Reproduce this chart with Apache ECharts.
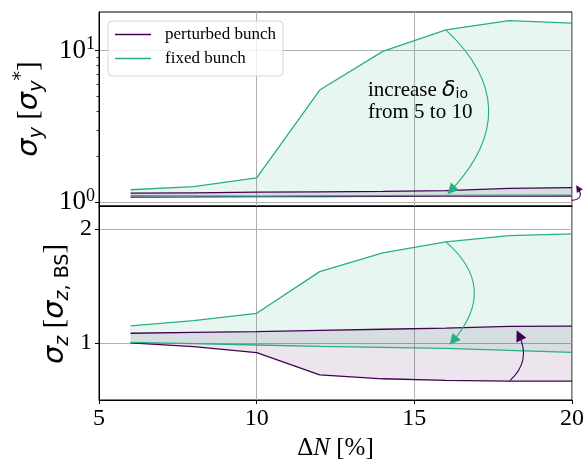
<!DOCTYPE html>
<html>
<head>
<meta charset="utf-8">
<script src="https://cdn.jsdelivr.net/npm/echarts@6/dist/echarts.min.js"></script>
<style>
  html, body { margin: 0; padding: 0; background: #fff; }
  #chart { width: 587px; height: 460px; }
</style>
</head>
<body>
<div id="chart"></div>
<script>
// Bunch intensity perturbation ΔN [%]
const deltaN = [6, 8, 10, 12, 14, 16, 18, 20];

// Vertical beam size σ_y [σ_y*] – band edges for δ_io = 5 (low) and 10 (high)
const sigmaYPerturbedLow  = [1.083, 1.085, 1.09, 1.092, 1.095, 1.097, 1.10, 1.10];
const sigmaYPerturbedHigh = [1.15, 1.155, 1.165, 1.17, 1.18, 1.195, 1.235, 1.25];
const sigmaYFixedLow      = [1.105, 1.103, 1.098, 1.103, 1.107, 1.11, 1.113, 1.115];
const sigmaYFixedHigh     = [1.21, 1.27, 1.45, 5.5, 9.9, 13.7, 15.8, 15.2];

// Bunch length σ_z [σ_z,BS]
const sigmaZPerturbedLow  = [1.0, 0.968, 0.915, 0.72, 0.686, 0.672, 0.665, 0.665];
const sigmaZPerturbedHigh = [1.085, 1.093, 1.10, 1.11, 1.12, 1.13, 1.145, 1.148];
const sigmaZFixedLow      = [1.005, 0.994, 0.982, 0.97, 0.962, 0.953, 0.935, 0.918];
const sigmaZFixedHigh     = [1.15, 1.195, 1.26, 1.625, 1.79, 1.885, 1.94, 1.955];

// Axis ticks
const xTicks = [5, 10, 15, 20];
const sigmaYTicks = [1, 10];
const sigmaYMinorTicks = [2, 3, 4, 5, 6, 7, 8, 9];
const sigmaZTicks = [1, 2];

// Curved arrows: trend when δ_io grows from 5 to 10
const arrowYFixed     = [[16, 13.7], [16.17, 1.2]];
const arrowYPerturbed = [[20.0, 1.03], [20.19, 1.24]];
const arrowZFixed     = [[16, 1.886], [16.23, 1.02]];
const arrowZPerturbed = [[18.03, 0.67], [18.32, 1.068]];

const PURPLE = '#440154';
const GREEN = '#29af7f';
const PURPLE_FILL = 'rgba(68, 1, 84, 0.10)';
const GREEN_FILL = 'rgba(41, 175, 127, 0.11)';
const SERIF = '"Liberation Serif", "Times New Roman", serif';
const SANS = '"DejaVu Sans", sans-serif';
const GRID_LINE = { show: true, lineStyle: { color: '#b0b0b0', width: 1 } };

const chart = echarts.init(document.getElementById('chart'), null, { renderer: 'canvas' });

function pairs(ys) { return deltaN.map((x, i) => [x, ys[i]]); }

// Filled band between a lower and an upper curve, drawn as one polygon
function band(xIdx, yIdx, lo, hi, fill) {
  return {
    type: 'custom',
    xAxisIndex: xIdx, yAxisIndex: yIdx,
    silent: true, z: 1,
    data: deltaN.map((x, i) => [x, lo[i], hi[i]]),
    encode: { x: 0, y: [1, 2] },
    renderItem(params, api) {
      if (params.dataIndex !== 0) return null;
      const pts = [];
      for (let i = 0; i < deltaN.length; i++) pts.push(api.coord([deltaN[i], hi[i]]));
      for (let i = deltaN.length - 1; i >= 0; i--) pts.push(api.coord([deltaN[i], lo[i]]));
      return { type: 'polygon', shape: { points: pts }, style: { fill: fill } };
    }
  };
}

function curve(name, xIdx, yIdx, ys, color) {
  return {
    type: 'line', name: name, color: color,
    xAxisIndex: xIdx, yAxisIndex: yIdx,
    data: pairs(ys), showSymbol: false, symbol: 'none',
    lineStyle: { color: color, width: 1.3 }, z: 3, silent: true
  };
}

function arrow(xIdx, yIdx, coords, color, curveness, size) {
  return {
    type: 'lines', coordinateSystem: 'cartesian2d',
    xAxisIndex: xIdx, yAxisIndex: yIdx, clip: false, silent: true, z: 5,
    symbol: ['none', 'triangle'], symbolSize: size,
    lineStyle: { color: color, width: 1.1, curveness: curveness, opacity: 1 },
    itemStyle: { color: color },
    data: [{ coords: coords }]
  };
}

const tickLabel = { color: '#000', fontFamily: SERIF, fontSize: 24 };

// Rich styles for the y-axis titles (σ with sub/superscripts)
const nameRich = {
  s: { fontFamily: SANS, fontStyle: 'italic', fontSize: 29, lineHeight: 35, color: '#000', fill: '#000' },
  sub: { fontFamily: SANS, fontStyle: 'italic', fontSize: 19, lineHeight: 19, verticalAlign: 'bottom', color: '#000', fill: '#000' },
  subr: { fontFamily: SANS, fontSize: 19, lineHeight: 19, verticalAlign: 'bottom', color: '#000', fill: '#000' },
  sup: { fontFamily: SANS, fontSize: 19, lineHeight: 17, verticalAlign: 'top', color: '#000', fill: '#000' },
  b: { fontFamily: SERIF, fontSize: 29, lineHeight: 35, color: '#000', fill: '#000' }
};

const option = {
  animation: false,
  backgroundColor: '#fff',
  grid: [
    { left: 99, right: 15, top: 12, height: 194, show: true, borderColor: '#000', borderWidth: 1, outerBoundsMode: 'none' },
    { left: 99, right: 15, top: 206, height: 194, show: true, borderColor: '#000', borderWidth: 1, outerBoundsMode: 'none' }
  ],
  legend: {
    orient: 'vertical', left: 108, top: 21,
    padding: [5, 7, 9, 7], itemGap: 7,
    itemWidth: 36, itemHeight: 1.5,
    backgroundColor: 'rgba(255,255,255,0.8)', borderColor: '#d5d5d5', borderWidth: 1, borderRadius: 4,
    textStyle: { fontFamily: SERIF, fontSize: 17, color: '#000', padding: [0, 0, 0, 9] },
    data: [{ name: 'perturbed bunch', icon: 'rect' }, { name: 'fixed bunch', icon: 'rect' }]
  },
  xAxis: [
    {
      type: 'value', gridIndex: 0, min: 5, max: 20, interval: 5,
      axisLine: { show: true, lineStyle: { color: '#000' } },
      axisTick: { show: false }, axisLabel: { show: false },
      splitLine: GRID_LINE
    },
    {
      type: 'value', gridIndex: 1, min: 5, max: 20, interval: 5,
      axisLine: { show: true, lineStyle: { color: '#000' } },
      axisTick: { show: true, length: 4, lineStyle: { color: '#000' } },
      axisLabel: Object.assign({ margin: 7 }, tickLabel),
      splitLine: GRID_LINE,
      name: '{d|Δ}{n|N}{d| [%]}', nameLocation: 'middle', nameGap: 36,
      nameTextStyle: {
        rich: {
          d: { fontFamily: SERIF, fontSize: 25, color: '#000' },
          n: { fontFamily: SERIF, fontStyle: 'italic', fontSize: 25, color: '#000' }
        }
      }
    }
  ],
  yAxis: [
    {
      type: 'log', logBase: 10, gridIndex: 0, min: 0.945, max: 18, position: 'left',
      axisLine: { show: true, lineStyle: { color: '#000' } },
      axisTick: { show: true, length: 4, customValues: sigmaYTicks, lineStyle: { color: '#000' } },
      axisLabel: {
        customValues: sigmaYTicks, margin: 4, color: '#000',
        formatter: v => '{n|10}{p|' + Math.round(Math.log10(v)) + '}',
        rich: {
          n: { fontFamily: SERIF, fontSize: 27, lineHeight: 30, color: '#000' },
          p: { fontFamily: SERIF, fontSize: 18, lineHeight: 18, verticalAlign: 'top', color: '#000' }
        }
      },
      splitLine: GRID_LINE,
      name: '{s|σ}{sub|y}{b| [}{s|σ}{sub|y}{sup|*}{b|]}',
      nameLocation: 'middle', nameGap: 52,
      nameTextStyle: { rich: nameRich }
    },
    {
      type: 'log', logBase: 10, gridIndex: 0, min: 0.945, max: 18, position: 'left', offset: 0,
      axisLine: { show: false },
      axisTick: { show: true, length: 2.5, customValues: sigmaYMinorTicks, lineStyle: { color: '#000', width: 0.8 } },
      axisLabel: { show: false },
      splitLine: { show: false }
    },
    {
      type: 'value', gridIndex: 1, min: 0.5, max: 2.2, position: 'left',
      axisLine: { show: true, lineStyle: { color: '#000' } },
      axisTick: { show: true, length: 4, customValues: sigmaZTicks, lineStyle: { color: '#000' } },
      axisLabel: Object.assign({ customValues: sigmaZTicks, margin: 7 }, tickLabel),
      splitLine: GRID_LINE
    }
  ],
  graphic: [
    {
      // title of the lower (bunch length) panel
      type: 'text', x: 55, y: 304, rotation: Math.PI / 2, silent: true, z: 10,
      style: {
        text: '{s|σ}{sub|z}{b| [}{s|σ}{sub|z}{subr|, BS}{b|]}',
        align: 'center', verticalAlign: 'middle',
        rich: nameRich
      }
    },
    {
      type: 'text', left: 368, top: 79, silent: true, z: 10,
      style: {
        text: '{t|increase }{d|δ}{i|io}\n{t|from 5 to 10}',
        rich: {
          t: { fontFamily: SERIF, fontSize: 21, lineHeight: 22, fill: '#000' },
          d: { fontFamily: SANS, fontStyle: 'italic', fontSize: 22, lineHeight: 22, fill: '#000' },
          i: { fontFamily: SANS, fontSize: 14, lineHeight: 14, verticalAlign: 'bottom', fill: '#000' }
        }
      }
    }
  ],
  series: [
    // σ_y panel
    band(0, 0, sigmaYPerturbedLow, sigmaYPerturbedHigh, PURPLE_FILL),
    band(0, 0, sigmaYFixedLow, sigmaYFixedHigh, GREEN_FILL),
    curve('perturbed bunch', 0, 0, sigmaYPerturbedHigh, PURPLE),
    curve('perturbed bunch', 0, 0, sigmaYPerturbedLow, PURPLE),
    curve('fixed bunch', 0, 0, sigmaYFixedHigh, GREEN),
    curve('fixed bunch', 0, 0, sigmaYFixedLow, GREEN),
    arrow(0, 0, arrowYFixed, GREEN, 0.5, 11),
    arrow(0, 0, arrowYPerturbed, PURPLE, -0.8, 7),
    // σ_z panel
    band(1, 2, sigmaZPerturbedLow, sigmaZPerturbedHigh, PURPLE_FILL),
    band(1, 2, sigmaZFixedLow, sigmaZFixedHigh, GREEN_FILL),
    curve('perturbed bunch', 1, 2, sigmaZPerturbedHigh, PURPLE),
    curve('perturbed bunch', 1, 2, sigmaZPerturbedLow, PURPLE),
    curve('fixed bunch', 1, 2, sigmaZFixedHigh, GREEN),
    curve('fixed bunch', 1, 2, sigmaZFixedLow, GREEN),
    arrow(1, 2, arrowZFixed, GREEN, 0.5, 11),
    arrow(1, 2, arrowZPerturbed, PURPLE, -0.37, 11)
  ]
};

chart.setOption(option);
</script>
</body>
</html>
